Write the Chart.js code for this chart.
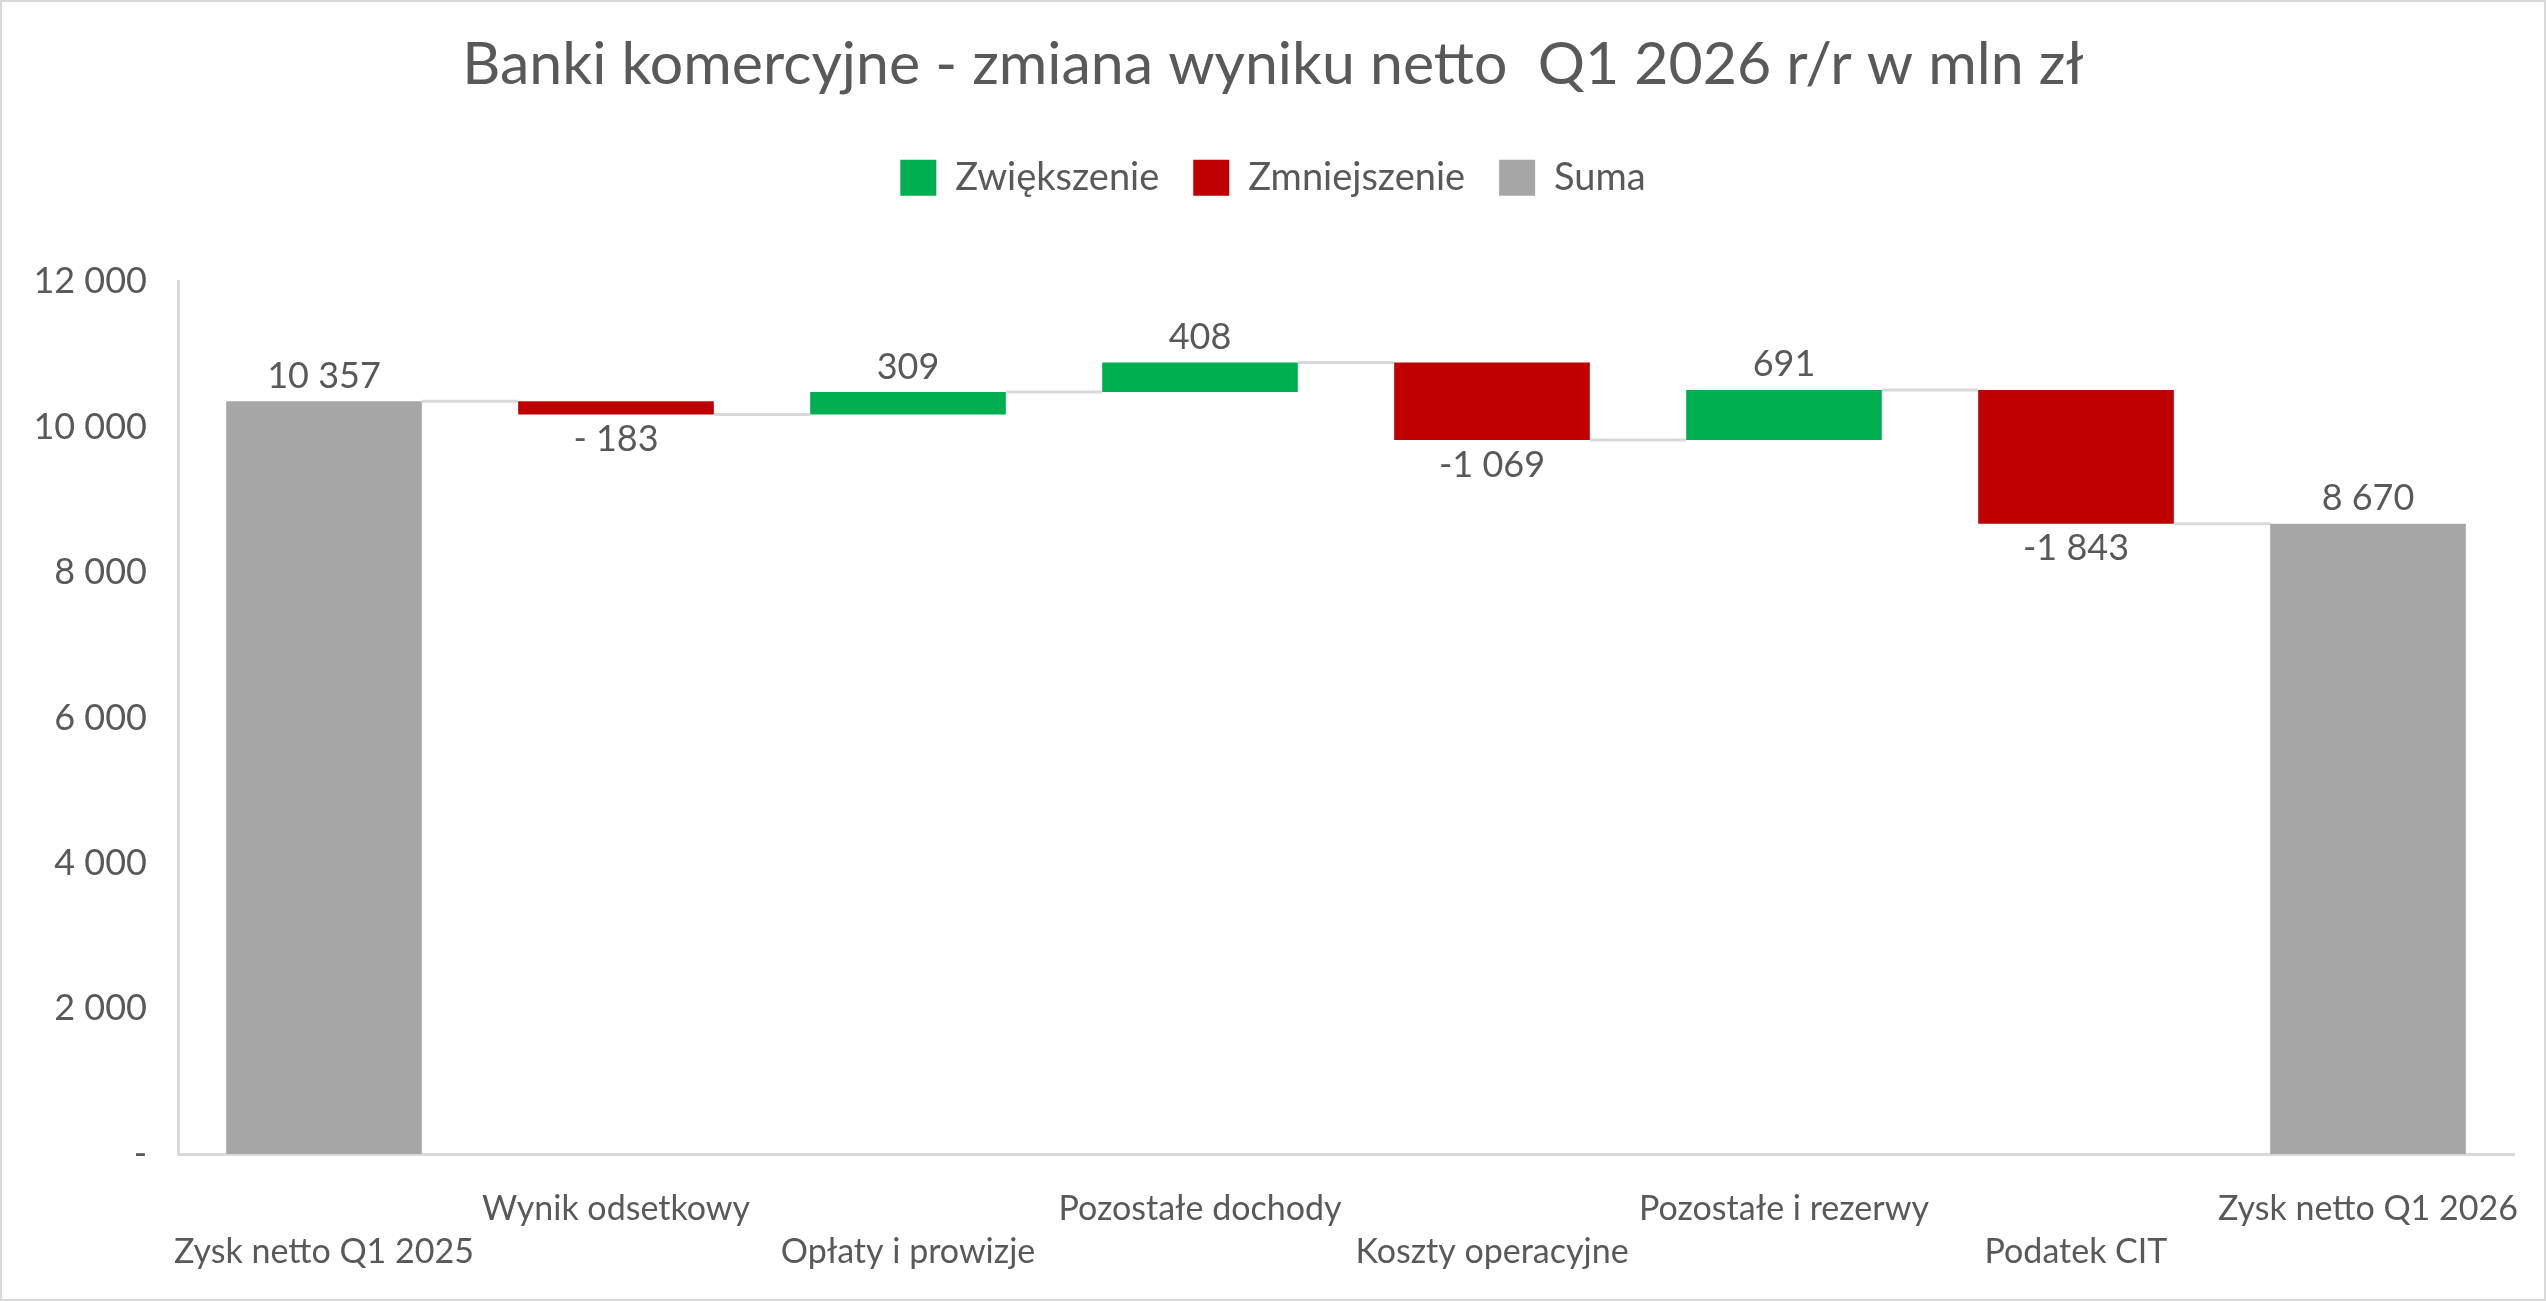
<!DOCTYPE html>
<html lang="pl">
<head>
<meta charset="UTF-8">
<title>Banki komercyjne - zmiana wyniku netto</title>
<script src="https://cdn.jsdelivr.net/npm/chart.js"></script>
<style>
  html, body { margin: 0; padding: 0; background: #fff; }
  #wrap { width: 2546px; height: 1301px; position: relative; }
</style>
</head>
<body>
<div id="wrap"><canvas id="waterfall"></canvas></div>
<script>
// data (mln zł)
const categories = ["Zysk netto Q1 2025", "Wynik odsetkowy", "Opłaty i prowizje", "Pozostałe dochody",
                    "Koszty operacyjne", "Pozostałe i rezerwy", "Podatek CIT", "Zysk netto Q1 2026"];
const values = [10357, -183, 309, 408, -1069, 691, -1843, 8670];
const isTotal = [true, false, false, false, false, false, false, true];
const seriesNames = ["Zwiększenie", "Zmniejszenie", "Suma"];
const yMin = 0, yMax = 12000, yStep = 2000;

const GREEN = "#00b050", RED = "#c00000", GREY = "#a6a6a6", TEXT = "#595959", LINE = "#d9d9d9";
const FONT = "Lato";

// floating ranges for the waterfall
let running = 0;
const ranges = values.map((v, i) => {
    if (isTotal[i]) { running = v; return [0, v]; }
    const r = [running, running + v];
    running += v;
    return r;
});
const levels = ranges.map(r => r[1]);

function fmtAbs(n) {
    return String(Math.abs(n)).replace(/\B(?=(\d{3})+(?!\d))/g, " ");
}
function fmtLabel(v) {
    if (v >= 0) return fmtAbs(v);
    return Math.abs(v) < 1000 ? "- " + fmtAbs(v) : "-" + fmtAbs(v);
}

const upData = ranges.map((r, i) => (!isTotal[i] && values[i] > 0) ? r : null);
const downData = ranges.map((r, i) => (!isTotal[i] && values[i] < 0) ? r : null);
const sumData = ranges.map((r, i) => isTotal[i] ? r : null);

// staggered category labels: even on second row, odd on first
const xLabels = categories.map((c, i) => i % 2 === 0 ? ["", c] : [c, ""]);

const background = {
    id: "background",
    beforeDraw(chart) {
        const ctx = chart.ctx;
        ctx.save();
        ctx.fillStyle = "#fff";
        ctx.fillRect(0, 0, chart.width, chart.height);
        ctx.strokeStyle = LINE;
        ctx.lineWidth = 2;
        ctx.strokeRect(1, 1, chart.width - 2, chart.height - 2);
        ctx.restore();
    }
};

function barAt(chart, i) {
    for (let d = 0; d < chart.data.datasets.length; d++) {
        if (chart.data.datasets[d].data[i] != null) return chart.getDatasetMeta(d).data[i];
    }
    return null;
}

const connectors = {
    id: "connectors",
    beforeDatasetsDraw(chart) {
        const ctx = chart.ctx, y = chart.scales.y;
        ctx.save();
        ctx.strokeStyle = LINE;
        ctx.lineWidth = 3;
        for (let i = 0; i < levels.length - 1; i++) {
            const a = barAt(chart, i), b = barAt(chart, i + 1);
            const py = y.getPixelForValue(levels[i]);
            ctx.beginPath();
            ctx.moveTo(a.x + a.width / 2, py);
            ctx.lineTo(b.x - b.width / 2, py);
            ctx.stroke();
        }
        ctx.restore();
    }
};

const valueLabels = {
    id: "valueLabels",
    afterDatasetsDraw(chart) {
        const ctx = chart.ctx;
        ctx.save();
        ctx.fillStyle = TEXT;
        ctx.font = "36px " + FONT;
        ctx.textAlign = "center";
        ctx.textBaseline = "middle";
        values.forEach((v, i) => {
            const el = barAt(chart, i);
            const top = Math.min(el.y, el.base), bottom = Math.max(el.y, el.base);
            const ty = v >= 0 ? top - 25 : bottom + 25;
            ctx.fillText(fmtLabel(v), el.x, ty);
        });
        ctx.restore();
    }
};

new Chart(document.getElementById("waterfall"), {
    type: "bar",
    data: {
        labels: xLabels,
        datasets: [
            { label: seriesNames[0], data: upData, backgroundColor: GREEN },
            { label: seriesNames[1], data: downData, backgroundColor: RED },
            { label: seriesNames[2], data: sumData, backgroundColor: GREY }
        ]
    },
    options: {
        responsive: true,
        maintainAspectRatio: false,
        animation: false,
        layout: { padding: { top: 0, right: 32, bottom: 0, left: 32 } },
        datasets: { bar: { grouped: false, barPercentage: 0.67, categoryPercentage: 1 } },
        plugins: {
            title: {
                display: true,
                text: "Banki komercyjne - zmiana wyniku netto  Q1 2026 r/r w mln zł",
                color: TEXT,
                font: { family: FONT, size: 59, weight: "normal", lineHeight: 1.2 },
                padding: { top: 30, bottom: 24 }
            },
            subtitle: {
                display: true, text: "", weight: 500,
                font: { size: 10, lineHeight: 1 },
                padding: { top: 65, bottom: 0 }
            },
            legend: {
                position: "top",
                labels: {
                    color: TEXT,
                    font: { family: FONT, size: 38 },
                    boxWidth: 36, boxHeight: 36,
                    padding: 34
                }
            },
            tooltip: { enabled: false }
        },
        scales: {
            x: {
                grid: { display: false, drawTicks: false },
                border: { display: true, color: LINE, width: 3 },
                ticks: {
                    color: TEXT, font: { family: FONT, size: 34, lineHeight: 1.265 },
                    padding: 34, maxRotation: 0, minRotation: 0, autoSkip: false
                },
                afterFit(s) { s.height = 147; s.paddingLeft = 0; s.paddingRight = 0; }
            },
            y: {
                min: yMin, max: yMax,
                grid: { display: false, drawTicks: false },
                border: { display: true, color: LINE, width: 3 },
                ticks: {
                    stepSize: yStep, color: TEXT, padding: 31,
                    font: { family: FONT, size: 36 },
                    callback: v => v === 0 ? "-" : fmtAbs(v)
                },
                afterFit(s) { s.width = 146; }
            }
        }
    },
    plugins: [background, connectors, valueLabels]
});
</script>
</body>
</html>
